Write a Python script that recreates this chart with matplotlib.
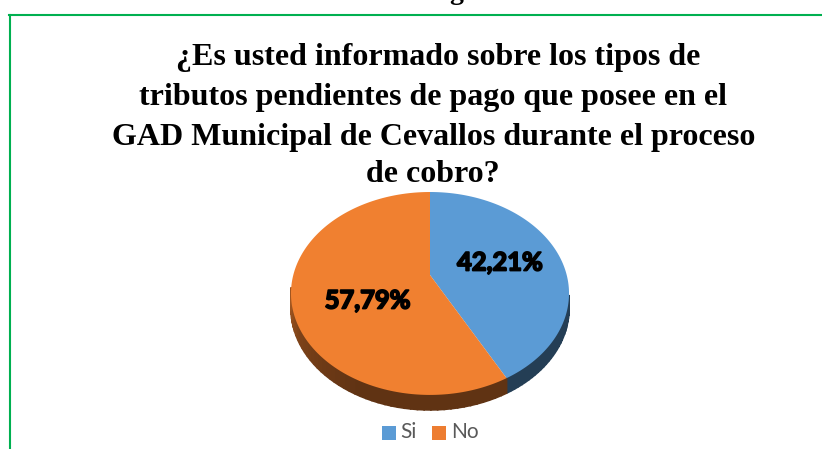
import numpy as np
import matplotlib
matplotlib.use("Agg")
import matplotlib.pyplot as plt
import matplotlib.patheffects as pe
from matplotlib.patches import Rectangle

categories = ["Si", "No"]
values = [42.21, 57.79]
value_labels = ["42,21%", "57,79%"]
colors = ["#5B9BD5", "#F08030"]
title_lines = ["¿Es usted informado sobre los tipos de",
               "tributos pendientes de pago que posee en el",
               "GAD Municipal de Cevallos durante el proceso",
               "de cobro?"]

W, H = 822, 449
fig = plt.figure(figsize=(W/100, H/100), dpi=100)
ax = fig.add_axes([0, 0, 1, 1])
ax.set_xlim(0, W); ax.set_ylim(H, 0); ax.axis("off")

# perspective projection of a flat disc
cx, cy, k, A, B, depth = 430, 275, 0.182, 98.1, 136.7, 15
def proj(theta, r=1.0):
    u, v = r*np.sin(theta), r*np.cos(theta)
    w = 1 + k*v
    return cx + B*u/w, cy - A*v/w

def shade(col, f):
    c = np.array(matplotlib.colors.to_rgb(col))
    return tuple(c*f)

edges = np.radians(np.concatenate([[0], np.cumsum(values)]) * 3.6)

# side wall, only the front part of the rim shows
for i, col in enumerate(colors):
    t = np.linspace(edges[i], edges[i+1], 91)
    for a, b in zip(t[:-1], t[1:]):
        if not 100 <= np.degrees(a) <= 262:
            continue
        xa, ya = proj(a); xb, yb = proj(b)
        if i == 0:
            f = 0.40
        else:
            f = np.interp(np.degrees(a), [150, 205, 240, 262], [0.40, 0.40, 0.52, 0.68])
        ax.fill([xa, xb, xb, xa], [ya, yb, yb+depth, ya+depth],
                color=shade(col, f), lw=1.2, zorder=2)

# top face
for i, col in enumerate(colors):
    t = np.linspace(edges[i], edges[i+1], 200)
    x, y = proj(t)
    ax.fill(np.r_[cx, x], np.r_[cy, y], color=col, lw=0, zorder=3)

# labels
label_pos = [(500, 263), (367.5, 301)]
for (lx, ly), s in zip(label_pos, value_labels):
    ax.text(lx, ly, s, family="Lato", weight="bold", fontsize=18.3, color="black",
            ha="center", va="center", zorder=5,
            path_effects=[pe.withStroke(linewidth=1.3, foreground="black")])

# title
title_y = [58, 98, 137, 174]
title_x = [438, 433, 433.5, 433]
for s, y, x in zip(title_lines, title_y, title_x):
    ax.text(x, y, s, family="Liberation Serif", weight="bold", fontsize=23,
            ha="center", va="center", color="black", zorder=6)

# clipped heading fragment
ax.text(456, -1, "g", family="Liberation Serif", weight="bold", fontsize=20,
        ha="center", va="baseline", color="black", clip_on=True)

# frame: left and top edges only, the top runs off the picture
ax.plot([10, 10], [H, 14.5], color="#00B050", lw=1.5, zorder=1)
ax.plot([9.3, W], [14.5, 14.5], color="#00B050", lw=1.5, zorder=1)

# legend
leg_sq = [382, 432]
leg_tx = [400.5, 451]
for sq, tx, col, s in zip(leg_sq, leg_tx, colors, categories):
    ax.add_patch(Rectangle((sq, 426), 14, 14, color="#5B9BD5" if s == "Si" else "#ED7D31", lw=0))
    ax.text(tx, 432.5, s, family="Lato", fontsize=15, color="#595959", ha="left", va="center")

fig.savefig("out.png", dpi=100)
